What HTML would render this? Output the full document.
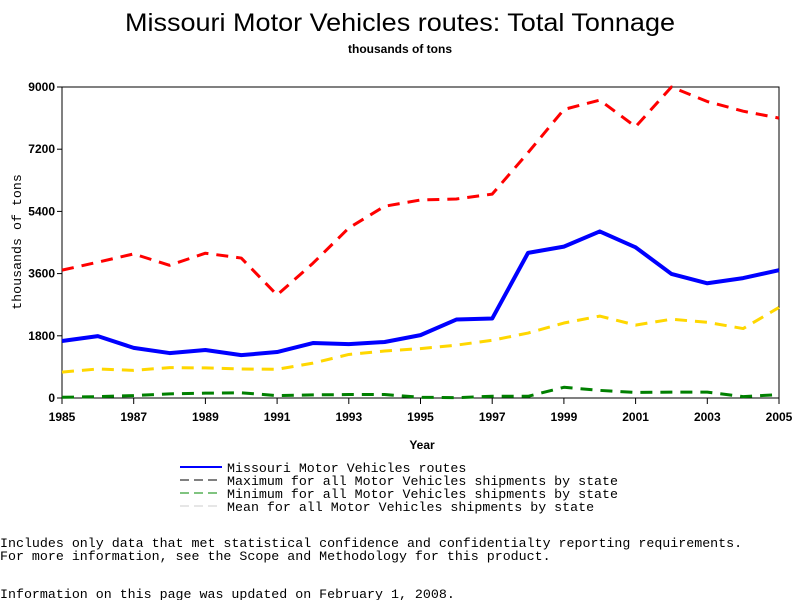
<!DOCTYPE html>
<html><head><meta charset="utf-8"><style>
body{margin:0;background:#fff;width:800px;height:600px;overflow:hidden}
svg{display:block}
.m{font-family:"Liberation Mono",monospace;font-size:13.3px}
.t{font-family:"Liberation Sans",sans-serif;font-size:12px;font-weight:bold}
</style></head><body>
<svg id="c" width="800" height="600">
<text x="400" y="31" text-anchor="middle" font-family="Liberation Sans,sans-serif" font-size="25" textLength="550" lengthAdjust="spacingAndGlyphs">Missouri Motor Vehicles routes: Total Tonnage</text>
<text x="400" y="53" text-anchor="middle" class="t" font-size="11">thousands of tons</text>
<rect x="62" y="87" width="717" height="311" fill="none" stroke="#000"/>
<g id="axes"></g><g id="series"></g>
<text x="422" y="449" text-anchor="middle" class="t">Year</text>
<text transform="translate(21,242) rotate(-90)" text-anchor="middle" class="m" font-size="12">thousands of tons</text>
<g>
<line x1="180" y1="467" x2="222" y2="467" stroke="#00f" stroke-width="2"/>
<text x="227" y="472" class="m">Missouri Motor Vehicles routes</text>
<line x1="180" y1="480" x2="222" y2="480" stroke="#000" stroke-dasharray="9,5"/>
<text x="227" y="485" class="m">Maximum for all Motor Vehicles shipments by state</text>
<line x1="180" y1="493" x2="222" y2="493" stroke="#080" stroke-dasharray="9,5"/>
<text x="227" y="498" class="m">Minimum for all Motor Vehicles shipments by state</text>
<line x1="180" y1="506" x2="222" y2="506" stroke="#ccc" stroke-dasharray="9,5"/>
<text x="227" y="511" class="m">Mean for all Motor Vehicles shipments by state</text>
</g>
<text x="0" y="547" class="m">Includes only data that met statistical confidence and confidentialty reporting requirements.</text>
<text x="0" y="560" class="m">For more information, see the Scope and Methodology for this product.</text>
<text x="0" y="598" class="m">Information on this page was updated on February 1, 2008.</text>
</svg>
<script>
const years=[1985,1986,1987,1988,1989,1990,1991,1992,1993,1994,1995,1996,1997,1998,1999,2000,2001,2002,2003,2004,2005];
const missouri=[1650,1790,1450,1300,1390,1240,1330,1590,1560,1620,1820,2270,2300,4200,4380,4820,4360,3590,3320,3470,3700];
const maximum=[3700,3930,4170,3840,4190,4050,2980,3900,4920,5550,5730,5760,5900,7100,8350,8620,7850,9000,8580,8300,8100];
const mean=[750,840,800,880,870,840,830,1010,1260,1360,1430,1530,1670,1880,2170,2370,2110,2280,2190,2010,2620];
const minimum=[20,40,70,120,140,150,70,90,100,100,20,10,50,50,310,220,160,170,170,40,100];
const yTicks=[0,1800,3600,5400,7200,9000];
const xTickLabels=[1985,1987,1989,1991,1993,1995,1997,1999,2001,2003,2005];
const NS='http://www.w3.org/2000/svg';
const x=v=>62+(v-1985)*(779-62)/20;
const y=v=>398-v*311/9000;
function mk(t,a,p){const e=document.createElementNS(NS,t);for(const k in a)e.setAttribute(k,a[k]);p.appendChild(e);return e;}
const ax=document.getElementById('axes');
yTicks.forEach(v=>{
 const l=mk('line',{x1:57,x2:62,y1:y(v),y2:y(v),stroke:'#000'},ax);
 
 
 const t=mk('text',{x:55,y:y(v)+4,'text-anchor':'end','class':'t'},ax);t.textContent=v;
 
 
});
xTickLabels.forEach(v=>{
 const l=mk('line',{x1:x(v),x2:x(v),y1:398,y2:404,stroke:'#000'},ax);
 
 
 const t=mk('text',{x:x(v),y:421,'text-anchor':'middle','class':'t'},ax);t.textContent=v;
 
 
});
const sg=document.getElementById('series');
function line(vals,color,w,dash,name){
 const p=mk('polyline',{points:vals.map((v,i)=>x(years[i])+','+y(v)).join(' '),fill:'none',stroke:color,'stroke-width':w,'stroke-linejoin':'round'},sg);
 if(dash)p.setAttribute('stroke-dasharray',dash);
 
 
}
line(mean,'#ffd700',3,'12,8','series-mean');
line(minimum,'#008000',3,'12,8','series-minimum');
line(maximum,'#ff0000',3,'12,8','series-maximum');
line(missouri,'#0000ff',4,null,'series-missouri');
</script>
</body></html>
